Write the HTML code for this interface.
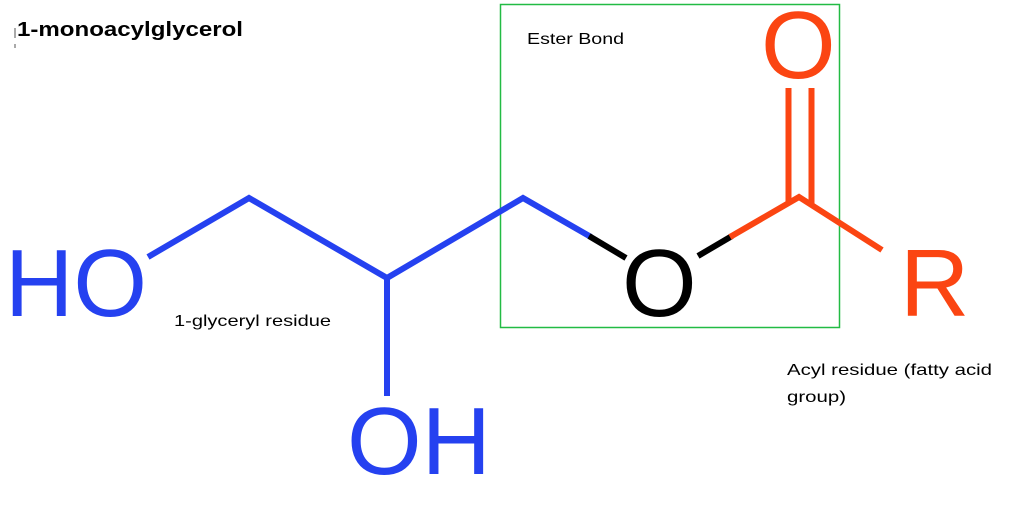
<!DOCTYPE html>
<html><head><meta charset="utf-8"><style>
html,body{margin:0;padding:0;background:#fff;}
svg{display:block;}
</style></head><body>
<svg width="1017" height="520" viewBox="0 0 1017 520" xmlns="http://www.w3.org/2000/svg">
<rect width="1017" height="520" fill="#fff"/>
<rect x="500.5" y="4.5" width="339" height="323" fill="none" stroke="#22bb44" stroke-width="1.5"/>
<g fill="none" stroke-width="6" stroke-linecap="butt" stroke-linejoin="miter">
<polyline points="148,257 249,198 387,278 523,198 591,237" stroke="#2541f0"/>
<line x1="387" y1="278" x2="387" y2="396" stroke="#2541f0"/>
<line x1="589" y1="236" x2="626" y2="258" stroke="#000"/>
<line x1="698" y1="256" x2="732" y2="236" stroke="#000"/>
<polyline points="730,237 799,197 882,250" stroke="#fb4512"/>
<line x1="788.5" y1="88" x2="788.5" y2="202" stroke="#fb4512"/>
<line x1="811.5" y1="88" x2="811.5" y2="206" stroke="#fb4512"/>
</g>
<g font-family="Liberation Sans, sans-serif" font-size="96">
<text x="5" y="316" fill="#2541f0" textLength="142" lengthAdjust="spacingAndGlyphs">HO</text>
<text x="347" y="474" fill="#2541f0" textLength="144" lengthAdjust="spacingAndGlyphs">OH</text>
<text x="622" y="316" fill="#000">O</text>
<text x="761" y="78" fill="#fb4512">O</text>
<text x="900" y="316" fill="#fb4512">R</text>
</g>
<g font-family="Liberation Sans, sans-serif" fill="#000">
<text x="17" y="36" font-size="20" font-weight="bold" textLength="226" lengthAdjust="spacingAndGlyphs">1-monoacylglycerol</text>
<text x="527" y="44" font-size="16" textLength="97" lengthAdjust="spacingAndGlyphs">Ester Bond</text>
<text x="174" y="326" font-size="16" textLength="157" lengthAdjust="spacingAndGlyphs">1-glyceryl residue</text>
<text x="787" y="375" font-size="16" textLength="205" lengthAdjust="spacingAndGlyphs">Acyl residue (fatty acid</text>
<text x="787" y="402" font-size="16" textLength="59" lengthAdjust="spacingAndGlyphs">group)</text>
</g>
<line x1="15" y1="28" x2="15" y2="38" stroke="#555" stroke-width="1"/>
<line x1="15" y1="44" x2="15" y2="48" stroke="#555" stroke-width="1"/>
</svg>
</body></html>
